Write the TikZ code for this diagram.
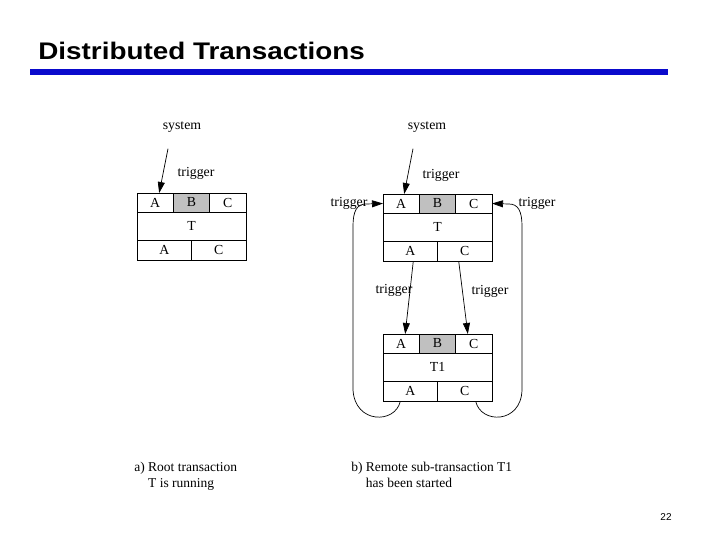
\documentclass[tikz,border=0pt]{standalone}
\usepackage{fontspec}
\setmainfont{Liberation Serif}
\newfontfamily\headfont{Liberation Sans}
\usetikzlibrary{arrows.meta,positioning}
\definecolor{SlideBlue}{HTML}{0A0ACC}
\definecolor{CellGray}{HTML}{C0C0C0}

\begin{document}
\begin{tikzpicture}[x=1pt,y=-1pt,line width=0.7pt,>={Triangle[length=11pt,width=7pt]},
 every node/.style={font=\fontsize{13.8}{16}\selectfont,inner sep=1pt},
 cell/.style={draw,minimum width=36.33pt,minimum height=19pt,inner sep=0pt,outer sep=0pt},
 wide/.style={draw,minimum width=109pt,minimum height=28pt,inner sep=0pt,outer sep=0pt},
 half/.style={draw,minimum width=54.5pt,minimum height=20.5pt,inner sep=0pt,outer sep=0pt},
 caption/.style={anchor=north west,align=left,font=\fontsize{13.5}{16}\selectfont}]
\useasboundingbox (0,0) rectangle (720,540);
% slide heading
\node[anchor=base west,font=\headfont\bfseries\fontsize{24}{28}\selectfont] (title) at (37,59.5)
  {\scalebox{1.16}[1]{Distributed Transactions}};
\fill[SlideBlue] (30,69) rectangle (668,75);
% a) root transaction
\node[cell,anchor=north west] (aA) at (137,193) {A};
\node[cell,fill=CellGray,right=0pt of aA] (aB) {B};
\node[cell,right=0pt of aB] (aC) {C};
\node[wide,below=0pt of aB] (aT) {T};
\node[half,anchor=north west] (aA2) at (aT.south west) {A};
\node[half,right=0pt of aA2] (aC2) {C};
\node (sysa) at (182,127) {system};
\node (trga) at (196,173) {trigger};
\draw[->] ([xshift=-14pt,yshift=-15pt]sysa.south) -- ([xshift=4pt]aA.north);
% b) remote sub-transaction, upper part
\node[cell,anchor=north west] (bA) at (383,194) {A};
\node[cell,fill=CellGray,right=0pt of bA] (bB) {B};
\node[cell,right=0pt of bB] (bC) {C};
\node[wide,below=0pt of bB] (bT) {T};
\node[half,anchor=north west] (bA2) at (bT.south west) {A};
\node[half,right=0pt of bA2] (bC2) {C};
\node (sysb) at (427,127) {system};
\node (trgb) at (441,175) {trigger};
\draw[->] ([xshift=-14pt,yshift=-15pt]sysb.south) -- ([xshift=3pt]bA.north);
% b) lower part: T1
\node[cell,anchor=north west] (cA) at (383,334) {A};
\node[cell,fill=CellGray,right=0pt of cA] (cB) {B};
\node[cell,right=0pt of cB] (cC) {C};
\node[wide,below=0pt of cB] (cT) {T1};
\node[half,anchor=north west] (cA2) at (cT.south west) {A};
\node[half,right=0pt of cA2] (cC2) {C};
\node (trgc) at (394,290) {trigger};
\node (trgd) at (490,291) {trigger};
\draw[->] ([xshift=3pt]bA2.south) -- ([xshift=4pt]cA.north);
\draw[->] ([xshift=-6pt]bC2.south) -- ([xshift=-6pt]cC.north);
% loops back to the root
\node (trgl) at (349,203) {trigger};
\node (trgr) at (537,203) {trigger};
\draw[->] ([xshift=-10pt]cA2.south) .. controls (395,424) and (355,424) .. (353,390)
  -- (353,226) .. controls (353,211) and (357,204) .. (366,204) -- (bA.west);
\draw[->] ([xshift=11pt]cC2.south) .. controls (481,424) and (521,424) .. (522,390)
  -- (522,226) .. controls (522,211) and (518,204) .. (509,204) -- (bC.east);
% captions and page number
\node[caption] (capa) at (133,461) {a) Root transaction\\\phantom{a) }T is running};
\node[caption] (capb) at (350,461) {b) Remote sub-transaction T1\\\phantom{b) }has been started};
\node[font=\headfont\fontsize{10}{12}\selectfont] (page) at (666,517) {22};
\end{tikzpicture}
\end{document}
